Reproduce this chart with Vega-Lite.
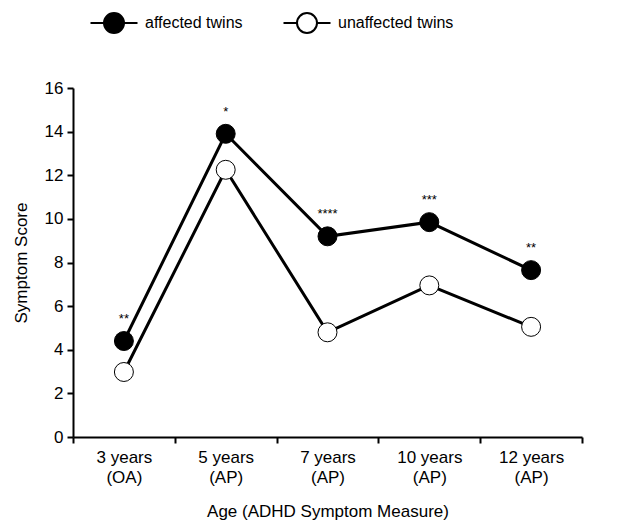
{
  "$schema": "https://vega.github.io/schema/vega-lite/v6.json",
  "width": 509,
  "height": 349,
  "autosize": "none",
  "padding": {"left": 73, "top": 88, "right": 51, "bottom": 88},
  "background": "white",
  "config": {
    "view": {"stroke": null},
    "font": "Liberation Sans",
    "axis": {"grid": false, "domainColor": "black", "tickColor": "black", "labelColor": "black", "titleColor": "black", "domainWidth": 2, "tickWidth": 2, "tickSize": 6, "labelFontSize": 17, "titleFontSize": 17, "titleFontWeight": "normal", "labelFont": "Liberation Sans", "titleFont": "Liberation Sans"}
  },
  "data": {
    "values": [
      {"age": "3 years|(OA)", "group": "affected twins", "score": 4.4, "sig": "**"},
      {"age": "5 years|(AP)", "group": "affected twins", "score": 13.9, "sig": "*"},
      {"age": "7 years|(AP)", "group": "affected twins", "score": 9.2, "sig": "****"},
      {"age": "10 years|(AP)", "group": "affected twins", "score": 9.85, "sig": "***"},
      {"age": "12 years|(AP)", "group": "affected twins", "score": 7.65, "sig": "**"},
      {"age": "3 years|(OA)", "group": "unaffected twins", "score": 2.98, "sig": ""},
      {"age": "5 years|(AP)", "group": "unaffected twins", "score": 12.25, "sig": ""},
      {"age": "7 years|(AP)", "group": "unaffected twins", "score": 4.8, "sig": ""},
      {"age": "10 years|(AP)", "group": "unaffected twins", "score": 6.95, "sig": ""},
      {"age": "12 years|(AP)", "group": "unaffected twins", "score": 5.05, "sig": ""}
    ]
  },
  "encoding": {
    "x": {
      "field": "age", "type": "nominal", "sort": null,
      "scale": {"paddingInner": 0, "paddingOuter": 0},
      "axis": {"labelAngle": 0, "labelExpr": "isValid(datum.value) ? split(datum.value, '|') : ''", "labelLineHeight": 20, "labelPadding": 6, "tickBand": "extent", "title": "Age (ADHD Symptom Measure)", "titlePadding": 18}
    },
    "y": {
      "field": "score", "type": "quantitative",
      "scale": {"domain": [0, 16], "nice": false, "zero": true},
      "axis": {"values": [0, 2, 4, 6, 8, 10, 12, 14, 16], "title": "Symptom Score", "labelPadding": 4, "titlePadding": 14}
    }
  },
  "layer": [
    {
      "mark": {"type": "line", "color": "black", "strokeWidth": 3},
      "encoding": {"detail": {"field": "group"}}
    },
    {
      "mark": {"type": "point", "filled": true, "size": 360, "stroke": "black", "strokeWidth": 1, "opacity": 1, "shape": "circle"},
      "encoding": {
        "fill": {
          "field": "group", "type": "nominal",
          "scale": {"domain": ["affected twins", "unaffected twins"], "range": ["black", "white"]},
          "legend": {
            "title": null, "orient": "none", "legendX": 30, "legendY": -76, "direction": "horizontal",
            "symbolType": "M -2.35 0 L -1 0 M 1 0 L 2.35 0 M 1 0 A 1 1 0 1 1 -1 0 A 1 1 0 1 1 1 0 Z",
            "symbolSize": 400, "symbolStrokeColor": "black", "symbolStrokeWidth": 2, "symbolOpacity": 1,
            "labelFontSize": 16, "labelColor": "black", "labelOffset": 20, "columnPadding": 36, "symbolOffset": 0,
            "labelFont": "Liberation Sans"
          }
        }
      }
    },
    {
      "transform": [{"filter": "datum.group == 'affected twins'"}],
      "mark": {"type": "text", "dy": -22, "fontSize": 13, "color": "black", "font": "Liberation Sans"},
      "encoding": {"text": {"field": "sig"}}
    }
  ]
}
